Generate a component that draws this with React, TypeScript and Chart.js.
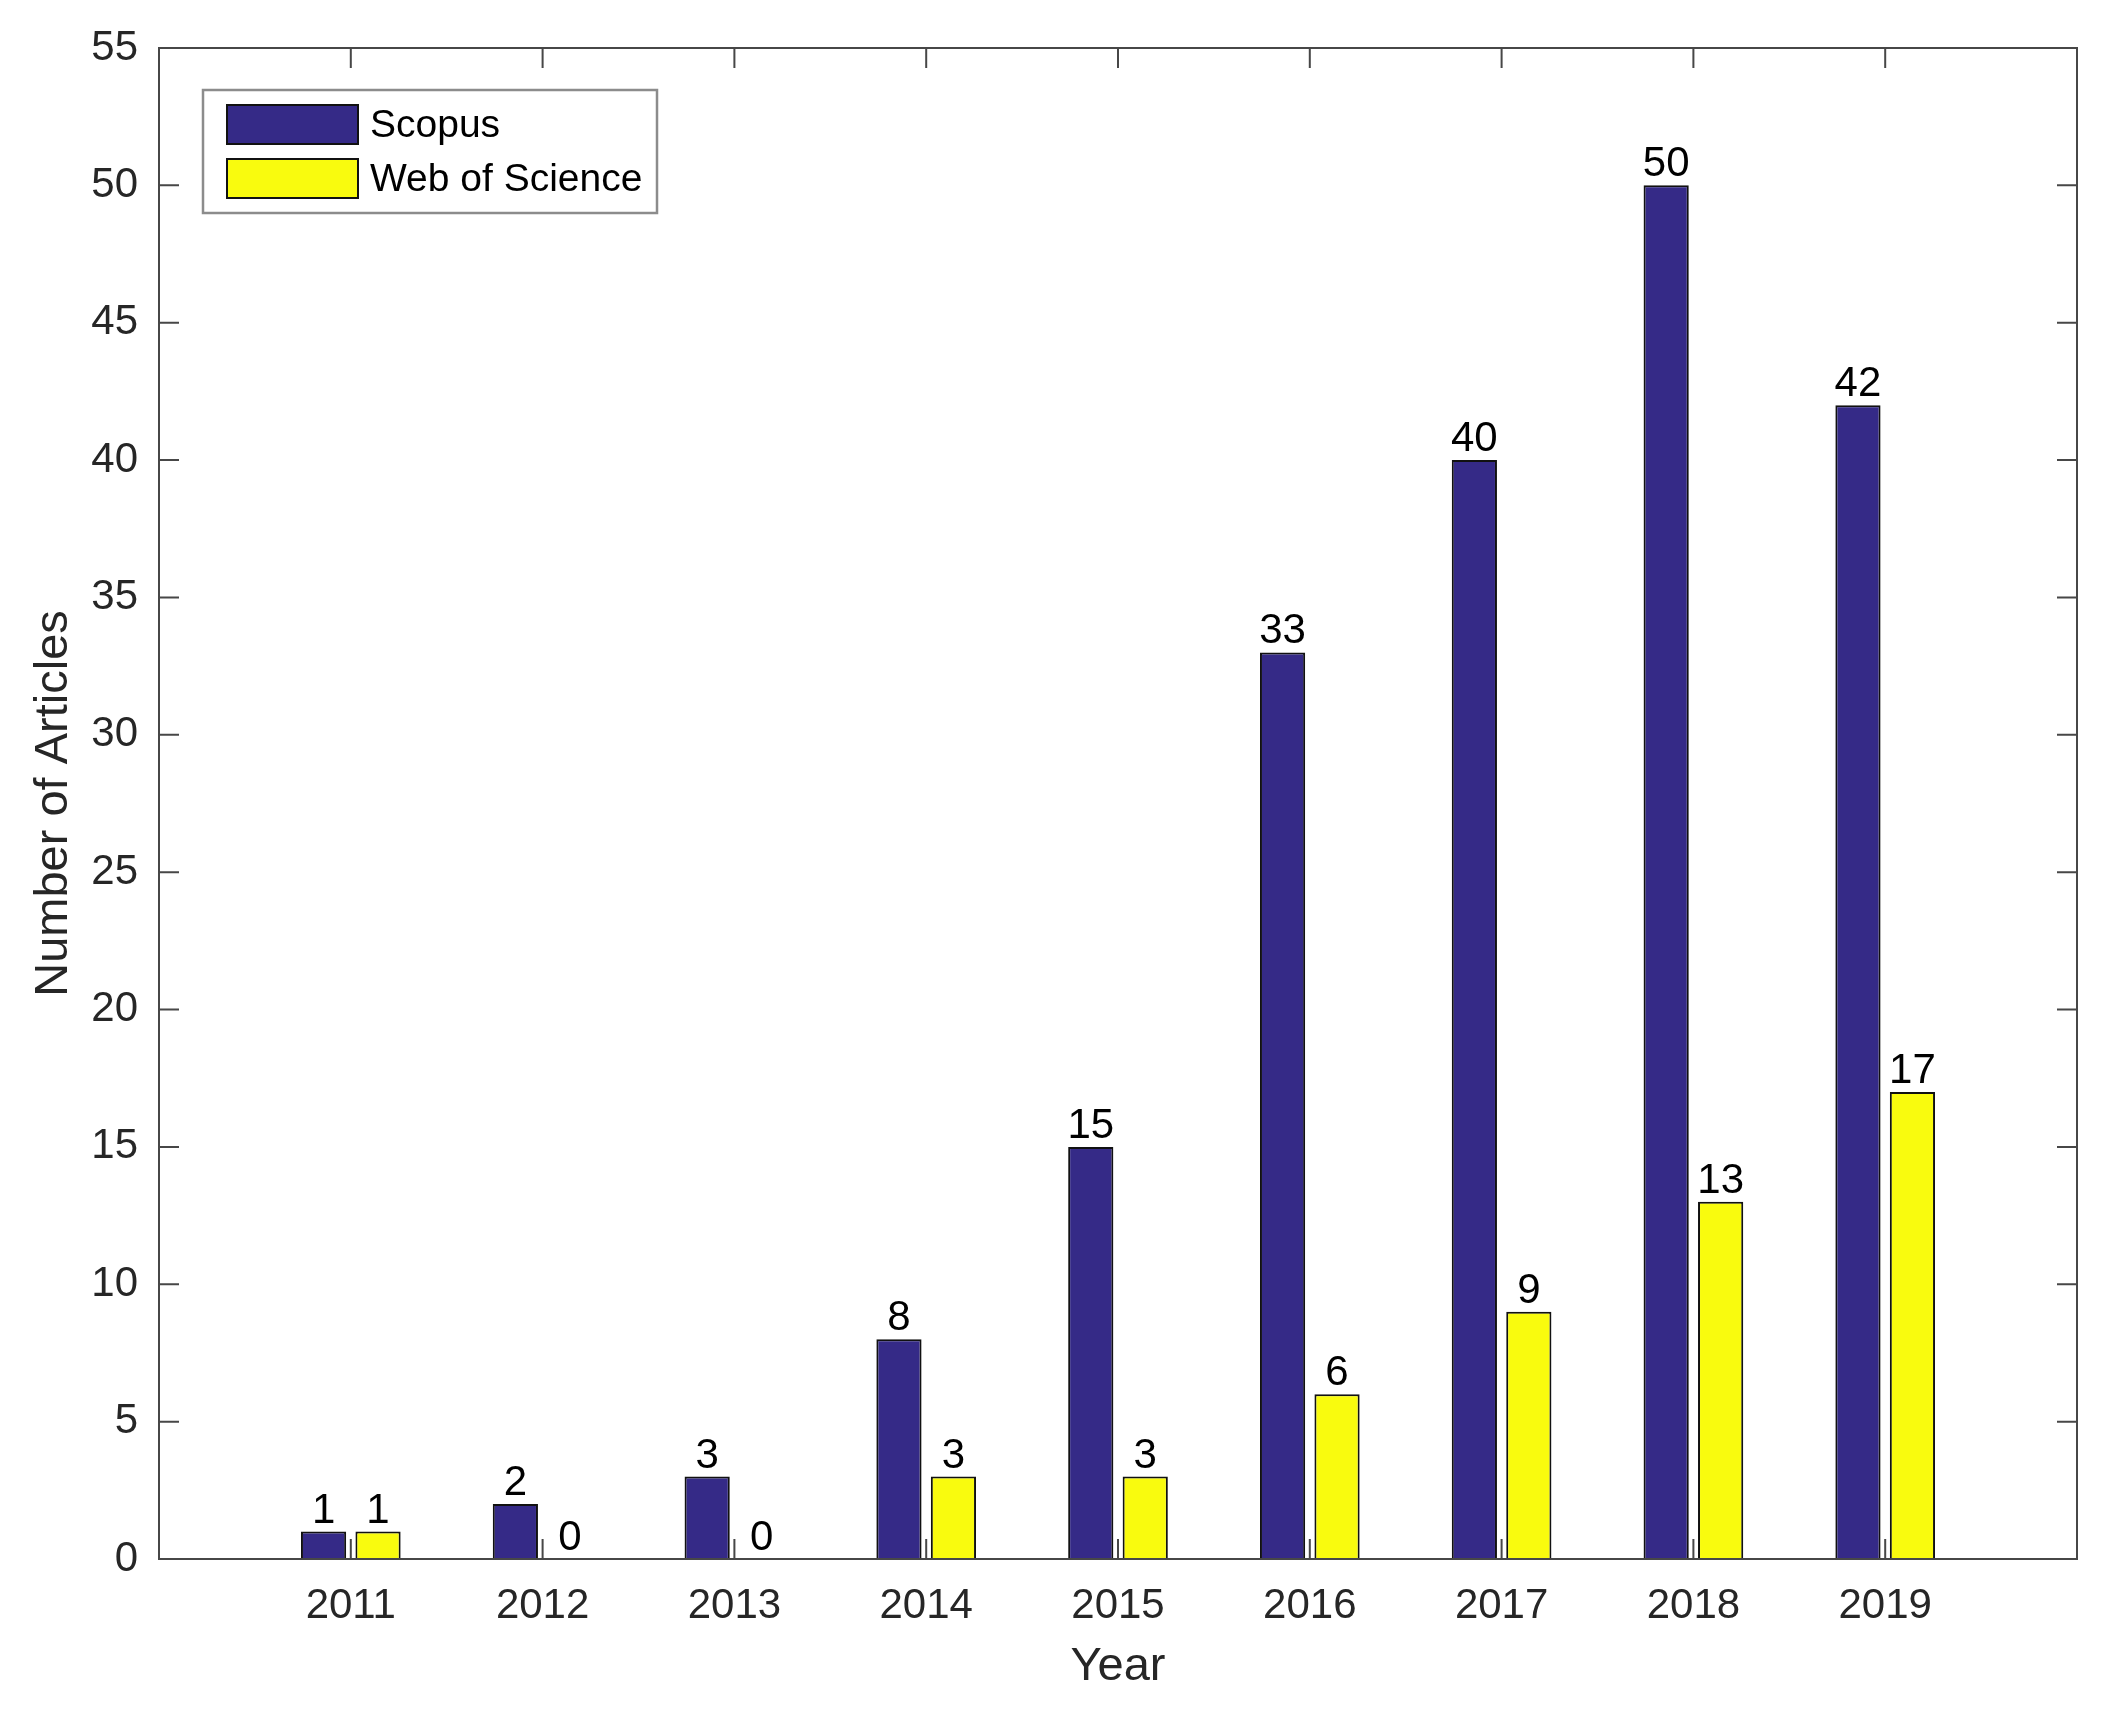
import { useEffect, useRef } from "react"
import { Chart, registerables } from "chart.js"

Chart.register(...registerables)

const years = [2011, 2012, 2013, 2014, 2015, 2016, 2017, 2018, 2019]
const scopus = [1, 2, 3, 8, 15, 33, 40, 50, 42]
const webOfScience = [1, 0, 0, 3, 3, 6, 9, 13, 17]
const seriesNames = ["Scopus", "Web of Science"]
const seriesColors = ["#352a87", "#f9fb0e"]
const xMin = 2010
const xMax = 2020
const yMin = 0
const yMax = 55
const yStep = 5

const FONT = "'Liberation Sans', Arial, Helvetica, sans-serif"
const AXIS = "#474747"
const TEXT = "#262626"

// MATLAB style box, inward ticks, bar value labels and framed legend
const matlabLook = {
  id: "matlabLook",
  afterDatasetsDraw(chart: any) {
    const { ctx } = chart
    ctx.save()
    ctx.font = `42px ${FONT}`
    ctx.fillStyle = "#000"
    ctx.textAlign = "center"
    ctx.textBaseline = "alphabetic"
    chart.data.datasets.forEach((ds: any, di: number) => {
      const meta = chart.getDatasetMeta(di)
      meta.data.forEach((el: any, i: number) => {
        ctx.fillText(String(ds.data[i].y), el.x, el.y - 9)
      })
    })
    ctx.restore()
  },
  afterDraw(chart: any) {
    const { ctx, chartArea: a, scales } = chart
    const tick = 20
    ctx.save()
    ctx.strokeStyle = AXIS
    ctx.lineWidth = 2
    ctx.strokeRect(a.left, a.top, a.right - a.left, a.bottom - a.top)

    ctx.beginPath()
    years.forEach((yr) => {
      const px = scales.x.getPixelForValue(yr)
      ctx.moveTo(px, a.bottom)
      ctx.lineTo(px, a.bottom - tick)
      ctx.moveTo(px, a.top)
      ctx.lineTo(px, a.top + tick)
    })
    for (let v = yMin; v <= yMax; v += yStep) {
      const py = scales.y.getPixelForValue(v)
      ctx.moveTo(a.left, py)
      ctx.lineTo(a.left + tick, py)
      ctx.moveTo(a.right, py)
      ctx.lineTo(a.right - tick, py)
    }
    ctx.stroke()

    // legend
    const lx = a.left + 44
    const ly = a.top + 42
    ctx.fillStyle = "#fff"
    ctx.fillRect(lx, ly, 454, 123)
    ctx.strokeStyle = "#8c8c8c"
    ctx.lineWidth = 2.5
    ctx.strokeRect(lx, ly, 454, 123)
    ctx.lineWidth = 2
    ctx.font = `39px ${FONT}`
    ctx.textAlign = "left"
    ctx.textBaseline = "middle"
    seriesNames.forEach((name, i) => {
      const sy = ly + 15 + i * 54
      ctx.fillStyle = seriesColors[i]
      ctx.fillRect(lx + 24, sy, 131, 39)
      ctx.strokeStyle = "#111"
      ctx.strokeRect(lx + 24, sy, 131, 39)
      ctx.fillStyle = "#000"
      ctx.fillText(name, lx + 167, sy + 21)
    })
    ctx.restore()
  },
}

export default function App() {
  const chartRef = useRef<HTMLCanvasElement>(null)
  const chartInstance = useRef<Chart | null>(null)

  useEffect(() => {
    if (!chartRef.current) return
    if (chartInstance.current) chartInstance.current.destroy()

    const ctx = chartRef.current.getContext("2d")
    if (!ctx) return

    const series = [scopus, webOfScience]

    chartInstance.current = new Chart(ctx, {
      type: "bar",
      data: {
        datasets: series.map((vals, si) => ({
          label: seriesNames[si],
          data: years.map((x, i) => ({ x, y: vals[i] })),
          backgroundColor: seriesColors[si],
          borderColor: "#111",
          borderWidth: 2,
          borderSkipped: "bottom",
          categoryPercentage: 0.568,
          barPercentage: 0.83,
        })),
      },
      options: {
        responsive: true,
        maintainAspectRatio: false,
        animation: false,
        devicePixelRatio: 1,
        layout: { padding: { top: 48, right: 27, left: 0, bottom: 0 } },
        plugins: {
          legend: { display: false },
          tooltip: { enabled: false },
        },
        scales: {
          x: {
            type: "linear",
            min: xMin,
            max: xMax,
            offset: false,
            grid: { display: false, drawTicks: false },
            border: { display: false },
            ticks: {
              stepSize: 1,
              padding: 22,
              color: TEXT,
              autoSkip: false,
              maxRotation: 0,
              font: { family: FONT, size: 42 },
              callback: (v: any) => (v >= years[0] && v <= years[years.length - 1] ? String(v) : null),
            },
            title: {
              display: true,
              text: "Year",
              color: TEXT,
              font: { family: FONT, size: 47 },
              padding: { top: 0, bottom: 16 },
            },
            afterFit: (s: any) => {
              s.height = 152
            },
          },
          y: {
            min: yMin,
            max: yMax,
            grid: { display: false, drawTicks: false },
            border: { display: false },
            ticks: {
              stepSize: yStep,
              padding: 21,
              color: TEXT,
              font: { family: FONT, size: 42 },
            },
            title: {
              display: true,
              text: "Number of Articles",
              color: TEXT,
              font: { family: FONT, size: 47 },
              padding: { top: 26, bottom: 0 },
            },
            afterFit: (s: any) => {
              s.width = 159
            },
          },
        },
      } as any,
      plugins: [matlabLook],
    })

    return () => {
      if (chartInstance.current) {
        chartInstance.current.destroy()
        chartInstance.current = null
      }
    }
  }, [])

  return (
    <div style={{ position: "absolute", left: 0, top: 0, width: 2104, height: 1711, background: "#fff" }}>
      <canvas ref={chartRef}></canvas>
    </div>
  )
}
